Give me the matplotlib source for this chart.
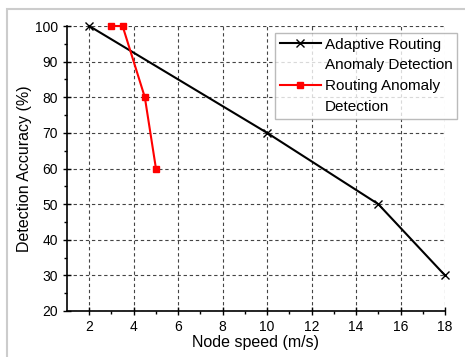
import matplotlib
matplotlib.use("Agg")
import matplotlib.pyplot as plt
from matplotlib.patches import Rectangle
from matplotlib.lines import Line2D

plt.rcParams['font.family'] = ['Liberation Sans', 'DejaVu Sans']

adaptive_speed = [2, 10, 15, 18]
adaptive_acc = [100, 70, 50, 30]
routing_speed = [3, 3.5, 4.5, 5]
routing_acc = [100, 100, 80, 60]
x_ticks = [2, 4, 6, 8, 10, 12, 14, 16, 18]
y_ticks = [20, 30, 40, 50, 60, 70, 80, 90, 100]

fig = plt.figure(figsize=(4.65, 3.57), dpi=100)
ax = fig.add_axes([67/465, 1-311/357, 378/465, 285/357])

l1, = ax.plot(adaptive_speed, adaptive_acc, color='black', lw=1.5, marker='x',
              ms=6, mew=1.0, clip_on=False)
l2, = ax.plot(routing_speed, routing_acc, color='red', lw=1.5, marker='s',
              ms=5, clip_on=False)

ax.set_xlim(1, 18)
ax.set_ylim(20, 100)
ax.set_xticks(x_ticks)
ax.set_yticks(y_ticks)
ax.set_xticks([3, 5, 7, 9, 11, 13, 15, 17], minor=True)
ax.set_yticks([25, 35, 45, 55, 65, 75, 85, 95], minor=True)
ax.tick_params(which='major', direction='inout', length=6, width=1, labelsize=10)
ax.tick_params(which='minor', direction='out', length=2.5, width=1)
ax.grid(True, which='major', color='#444444', ls=(0, (3, 2.5)), lw=0.8)
ax.set_axisbelow(True)

for s in ['top', 'right']:
    ax.spines[s].set_visible(False)
for s in ['left', 'bottom']:
    ax.spines[s].set_linewidth(1.2)

ax.set_xlabel('Node speed (m/s)', fontsize=11.5, labelpad=1)
ax.set_ylabel('Detection Accuracy (%)', fontsize=11.5, labelpad=2)

# two-line labels: second line as an entry with an empty handle
blank = Line2D([], [], color='none')
leg = fig.legend([l1, blank, l2, blank],
                 ['Adaptive Routing', 'Anomaly Detection', 'Routing Anomaly', 'Detection'],
                 loc='upper left', bbox_to_anchor=(275/465, 1-33/357),
                 fontsize=11, frameon=True, fancybox=False, handlelength=2.7,
                 handletextpad=0.25, borderpad=0.3, labelspacing=0.45,
                 borderaxespad=0)
leg.get_frame().set_edgecolor('#aaaaaa')
leg.get_frame().set_linewidth(1.0)

fig.patches.append(Rectangle((7/465, -0.1), 1.2, 1-9/357+0.1, transform=fig.transFigure,
                             fill=False, edgecolor='#cccccc', lw=1.5))

fig.savefig('out.png', dpi=100)
